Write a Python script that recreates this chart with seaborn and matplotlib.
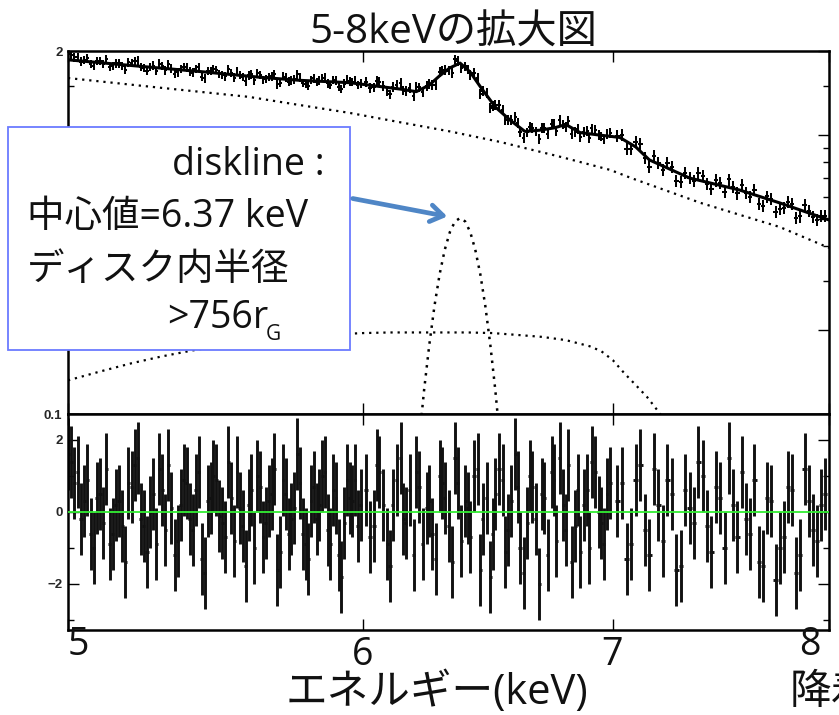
import matplotlib
matplotlib.use("Agg")
import numpy as np
import pandas as pd
import matplotlib.pyplot as plt
import seaborn as sns
from matplotlib.patches import Rectangle, FancyArrowPatch
from matplotlib.ticker import NullLocator, NullFormatter, FixedLocator

# ---------------- data ----------------
# spectral bins (keV), two interleaved sets per energy range
E_low_a = [5.01, 5.03, 5.05, 5.07, 5.09, 5.11, 5.13, 5.15, 5.17, 5.19,
           5.21, 5.23, 5.25, 5.27, 5.29, 5.31, 5.33, 5.35, 5.37, 5.39,
           5.41, 5.43, 5.45, 5.47, 5.49, 5.51, 5.53, 5.55, 5.57, 5.59,
           5.61, 5.63, 5.65, 5.67, 5.69, 5.71, 5.73, 5.75, 5.77, 5.79,
           5.81, 5.83, 5.85, 5.87, 5.89, 5.91, 5.93, 5.95, 5.97, 5.99]
E_low_b = [5.00, 5.02, 5.04, 5.06, 5.08, 5.10, 5.12, 5.14, 5.16, 5.18,
           5.20, 5.22, 5.24, 5.26, 5.28, 5.30, 5.32, 5.34, 5.36, 5.38,
           5.40, 5.42, 5.44, 5.46, 5.48, 5.50, 5.52, 5.54, 5.56, 5.58,
           5.60, 5.62, 5.64, 5.66, 5.68, 5.70, 5.72, 5.74, 5.76, 5.78,
           5.80, 5.82, 5.84, 5.86, 5.88, 5.90, 5.92, 5.94, 5.96, 5.98]
E_mid_a = [6.01, 6.04, 6.06, 6.09, 6.11, 6.14, 6.16, 6.19, 6.21, 6.24,
           6.26, 6.29, 6.31, 6.34, 6.36, 6.39, 6.41, 6.44, 6.46, 6.49,
           6.51, 6.54, 6.56, 6.59, 6.61, 6.64, 6.66, 6.69, 6.71, 6.74,
           6.76, 6.79, 6.81, 6.84, 6.86, 6.89, 6.91, 6.94, 6.96, 6.99]
E_mid_b = [6.025, 6.05, 6.075, 6.10, 6.125, 6.15, 6.175, 6.20, 6.225, 6.25,
           6.275, 6.30, 6.325, 6.35, 6.375, 6.40, 6.425, 6.45, 6.475, 6.50,
           6.525, 6.55, 6.575, 6.60, 6.625, 6.65, 6.675, 6.70, 6.725, 6.75,
           6.775, 6.80, 6.825, 6.85, 6.875, 6.90, 6.925, 6.95, 6.975]
E_high_a = [7.02, 7.06, 7.10, 7.14, 7.18, 7.22, 7.26, 7.30, 7.34, 7.38,
            7.42, 7.46, 7.50, 7.54, 7.58, 7.62, 7.66, 7.70, 7.74, 7.78,
            7.82, 7.86, 7.90, 7.94, 7.98]
E_high_b = [7.04, 7.08, 7.12, 7.16, 7.20, 7.24, 7.28, 7.32, 7.36, 7.40,
            7.44, 7.48, 7.52, 7.56, 7.60, 7.64, 7.68, 7.72, 7.76, 7.80,
            7.84, 7.88, 7.92, 7.96]
halfwidth_low, halfwidth_mid, halfwidth_high = 0.005, 0.00625, 0.01

flux_low_a = [1.934, 1.908, 1.856, 1.797, 1.844, 1.797, 1.756, 1.808, 1.767, 1.823,
              1.840, 1.752, 1.696, 1.772, 1.802, 1.705, 1.729, 1.675, 1.755, 1.691,
              1.724, 1.620, 1.694, 1.721, 1.658, 1.621, 1.668, 1.694, 1.613, 1.635,
              1.569, 1.644, 1.590, 1.623, 1.517, 1.630, 1.553, 1.581, 1.608, 1.525,
              1.577, 1.551, 1.604, 1.530, 1.578, 1.491, 1.529, 1.558, 1.573, 1.532]
flux_low_b = [1.949, 1.896, 1.832, 1.885, 1.771, 1.845, 1.874, 1.769, 1.808, 1.709,
              1.812, 1.847, 1.737, 1.750, 1.696, 1.766, 1.795, 1.658, 1.723, 1.746,
              1.673, 1.746, 1.596, 1.695, 1.712, 1.645, 1.721, 1.605, 1.642, 1.556,
              1.650, 1.662, 1.573, 1.615, 1.653, 1.538, 1.608, 1.570, 1.649, 1.540,
              1.504, 1.595, 1.567, 1.606, 1.510, 1.567, 1.462, 1.584, 1.550, 1.510]
flux_mid_a = [1.547, 1.481, 1.552, 1.434, 1.483, 1.537, 1.435, 1.375, 1.481, 1.499,
              1.508, 1.687, 1.709, 1.672, 1.843, 1.763, 1.639, 1.603, 1.442, 1.253,
              1.282, 1.233, 1.132, 1.158, 1.026, 1.021, 1.060, 0.967, 1.062, 1.098,
              1.036, 1.092, 1.127, 1.028, 0.981, 1.034, 1.057, 1.000, 0.965, 1.017]
flux_mid_b = [1.471, 1.566, 1.497, 1.399, 1.512, 1.445, 1.473, 1.485, 1.424, 1.526,
              1.513, 1.704, 1.702, 1.868, 1.744, 1.719, 1.665, 1.407, 1.414, 1.271,
              1.279, 1.128, 1.134, 1.106, 0.976, 1.069, 1.031, 1.061, 1.008, 1.093,
              1.131, 1.071, 1.009, 1.054, 1.023, 0.975, 1.043, 0.988, 1.009]
flux_high_a = [0.995, 0.893, 0.943, 0.826, 0.844, 0.748, 0.768, 0.677, 0.704, 0.733,
               0.666, 0.688, 0.626, 0.650, 0.663, 0.601, 0.567, 0.602, 0.529, 0.547,
               0.567, 0.511, 0.534, 0.496, 0.513]
flux_high_b = [1.004, 0.889, 0.926, 0.770, 0.796, 0.795, 0.686, 0.733, 0.686, 0.715,
               0.639, 0.673, 0.693, 0.618, 0.619, 0.636, 0.558, 0.592, 0.545, 0.576,
               0.504, 0.563, 0.509, 0.514]
relerr_low, relerr_mid, relerr_high = 0.035, 0.04, 0.05

resid_low_a = [1.4, 1.1, 0.3, -0.6, 0.4, -0.3, -0.9, 0.2, -0.4, 0.8,
               1.3, -0.2, -1.1, 0.5, 1.2, -0.5, 0.1, -0.8, 0.9, -0.2,
               0.6, -1.3, 0.3, 1.0, -0.1, -0.7, 0.4, 1.1, -0.4, 0.2,
               -1.0, 0.7, -0.3, 0.5, -1.6, 0.9, -0.6, 0.1, 0.8, -0.9,
               0.3, -0.2, 1.0, -0.5, 0.6, -1.2, -0.3, 0.4, 0.9, 0.2]
resid_low_b = [1.6, 0.8, -0.2, 0.9, -1.0, 0.5, 1.2, -0.6, 0.3, -1.4,
               0.7, 1.5, -0.4, 0.0, -0.9, 0.6, 1.3, -1.2, 0.2, 0.8,
               -0.5, 1.1, -1.7, 0.4, 0.9, -0.3, 1.4, -0.8, 0.1, -1.5,
               0.6, 1.0, -0.7, 0.3, 1.2, -1.1, 0.5, -0.2, 1.6, -0.6,
               -1.3, 0.7, 0.2, 1.1, -0.9, 0.4, -1.8, 0.9, 0.3, -0.4]
resid_mid_a = [0.6, -0.4, 1.1, -0.9, 0.2, 1.5, -0.3, -1.2, 0.7, 0.1,
               -0.6, 1.0, 0.4, -1.4, 0.8, 0.3, -0.7, 1.2, -0.2, -1.8,
               0.5, 0.9, -0.5, 1.6, -1.0, -0.3, 0.7, -2.0, 0.4, 1.1,
               -0.8, 0.2, 1.3, -0.4, -1.1, 0.6, 1.4, 0.0, -0.9, 0.8]
resid_mid_b = [-0.7, 1.3, 0.2, -1.5, 0.9, -0.2, 0.6, 1.1, -0.9, 0.3,
               -1.3, 0.8, -0.4, 1.5, -0.8, 0.1, 1.0, -1.6, 0.4, -0.6,
               1.2, -1.1, 0.3, 0.7, -1.7, 1.0, -0.2, 0.5, -1.2, 0.9,
               1.5, -0.5, -1.4, 0.6, 0.2, -1.0, 1.1, -0.3, 0.5]
resid_high_a = [0.3, -1.3, 0.9, -0.5, 1.2, -0.8, 0.5, -1.5, 0.1, 1.4,
                -0.4, 0.7, -1.0, 0.2, 1.1, -0.6, -1.4, 0.4, -1.9, -0.7,
                0.6, -1.2, 0.3, -0.8, 0.5]
resid_high_b = [0.8, -0.9, 1.3, -1.2, 0.2, 0.9, -1.6, 0.6, -0.3, 1.0,
                -1.1, 0.4, 1.5, -0.7, -0.2, 0.9, -1.5, 0.3, -1.0, 0.7,
                -1.7, 1.2, -0.5, 0.2]
resid_err = 1.0

# total model
model_E = [5.00, 5.26, 5.42, 5.63, 5.77, 5.95, 6.14, 6.20, 6.25, 6.29, 6.33, 6.37,
           6.41, 6.45, 6.51, 6.57, 6.63, 6.69, 6.75, 6.80, 6.86, 6.94, 7.03, 7.10,
           7.16, 7.34, 7.57, 7.76, 8.00]
model_F = [1.86, 1.75, 1.69, 1.61, 1.57, 1.54, 1.46, 1.43, 1.51, 1.63, 1.74, 1.81,
           1.68, 1.49, 1.26, 1.13, 1.03, 1.04, 1.06, 1.09, 1.02, 1.00, 0.98, 0.906,
           0.814, 0.701, 0.635, 0.571, 0.496]
# continuum component
cont_E = [5.00, 5.26, 5.59, 5.77, 5.95, 6.14, 6.33, 6.53, 6.78, 6.99, 7.08, 7.39, 7.76, 8.00]
cont_F = [1.60, 1.49, 1.37, 1.28, 1.20, 1.11, 1.03, 0.944, 0.834, 0.749, 0.701, 0.571, 0.468, 0.394]
# broad component
broad_E = [5.0, 5.1, 5.2, 5.3, 5.4, 5.5, 5.6, 5.7, 5.8, 5.9, 6.0, 6.1, 6.2, 6.3,
           6.4, 6.5, 6.6, 6.7, 6.8, 6.9, 6.95, 7.0, 7.05, 7.1, 7.15, 7.2, 7.25, 7.3]
broad_F = [0.132, 0.142, 0.152, 0.161, 0.169, 0.176, 0.182, 0.187, 0.191, 0.193,
           0.195, 0.196, 0.196, 0.196, 0.196, 0.195, 0.192, 0.189, 0.184, 0.175,
           0.168, 0.156, 0.140, 0.127, 0.115, 0.102, 0.090, 0.080]
# diskline component
disk_E = [6.19, 6.21, 6.23, 6.25, 6.27, 6.29, 6.31, 6.33, 6.35, 6.37,
          6.39, 6.41, 6.43, 6.45, 6.47, 6.49, 6.51, 6.53, 6.55]
disk_F = [0.048, 0.079, 0.122, 0.177, 0.244, 0.317, 0.388, 0.449, 0.490, 0.504,
          0.490, 0.449, 0.388, 0.317, 0.244, 0.177, 0.122, 0.079, 0.048]

x_tick_values = [5, 6, 7, 8]
x_tick_labels = ["5", "6", "7", "8"]
top_ytick_values = [0.1, 0.2, 0.5, 1, 2]
top_ytick_labels = ["0.1", "", "", "", "2"]     # middle labels lie under the call-out box
res_ytick_values = [-2, 0, 2]
res_ytick_labels = ["\u22122", "0", "2"]

# ---------------- figure ----------------
sns.set_theme(style="ticks")
plt.rcParams["font.family"] = ["Noto Sans CJK JP", "DejaVu Sans"]
MIX = ["Open Sans", "Noto Sans CJK JP"]   # Latin from Open Sans, kana/kanji from Noto

W, H = 839, 715
fig = plt.figure(figsize=(W / 100, H / 100), dpi=100)

def fx(px):
    return px / W

def fy(py):
    return 1 - py / H

ax_top = fig.add_axes([fx(68), fy(414), fx(829) - fx(68), fy(51) - fy(414)])
ax_res = fig.add_axes([fx(68), fy(630), fx(829) - fx(68), fy(414) - fy(630)], sharex=ax_top)

groups = [(E_low_a, flux_low_a, resid_low_a, halfwidth_low, relerr_low),
          (E_low_b, flux_low_b, resid_low_b, halfwidth_low, relerr_low),
          (E_mid_a, flux_mid_a, resid_mid_a, halfwidth_mid, relerr_mid),
          (E_mid_b, flux_mid_b, resid_mid_b, halfwidth_mid, relerr_mid),
          (E_high_a, flux_high_a, resid_high_a, halfwidth_high, relerr_high),
          (E_high_b, flux_high_b, resid_high_b, halfwidth_high, relerr_high)]
E_all = np.concatenate([g[0] for g in groups])
flux_all = np.concatenate([g[1] for g in groups])
res_all = np.concatenate([g[2] for g in groups])
hw_all = np.concatenate([[g[3]] * len(g[0]) for g in groups])
ferr_all = flux_all * np.concatenate([[g[4]] * len(g[0]) for g in groups])

# top panel
ax_top.set_xscale("log")
ax_top.set_yscale("log")
ax_top.errorbar(E_all, flux_all, yerr=ferr_all, xerr=hw_all, fmt="none",
                ecolor="black", elinewidth=1.45, capsize=0, zorder=3)
dotted = (0, (1, 2.2))
sns.lineplot(x=cont_E, y=cont_F, ax=ax_top, color="black", lw=1.6,
             linestyle=dotted, estimator=None, sort=False, zorder=2)
sns.lineplot(x=broad_E, y=broad_F, ax=ax_top, color="black", lw=1.6,
             linestyle=dotted, estimator=None, sort=False, zorder=2)
sns.lineplot(x=disk_E, y=disk_F, ax=ax_top, color="black", lw=1.8,
             linestyle=dotted, estimator=None, sort=False, zorder=2)
sns.lineplot(x=model_E, y=model_F, ax=ax_top, color="black", lw=2.2,
             estimator=None, sort=False, zorder=4)
ax_top.set_xlim(5, 8)
ax_top.set_ylim(0.1, 2)

# residual panel
ax_res.errorbar(E_all, res_all, yerr=resid_err, xerr=hw_all, fmt="none",
                ecolor="#111111", elinewidth=2.1, capsize=0, zorder=2)
sns.lineplot(x=[5, 8], y=[0, 0], ax=ax_res, color="#33ee33", lw=1.3,
             estimator=None, zorder=4)
ax_res.set_ylim(-3.28, 2.72)
ax_res.set_xlim(5, 8)

# ticks and frames
tickfont = dict(family="Liberation Sans", weight="bold", size=9.5)
for ax in (ax_top, ax_res):
    for s in ax.spines.values():
        s.set_visible(True)
        s.set_linewidth(1.8)
        s.set_color("black")
    ax.xaxis.set_major_locator(FixedLocator(x_tick_values))
    ax.xaxis.set_minor_locator(NullLocator())
    ax.xaxis.set_major_formatter(NullFormatter())
    ax.xaxis.set_minor_formatter(NullFormatter())
    ax.tick_params(axis="both", which="both", direction="in", top=True, right=True,
                   color="black", width=1.0)
    ax.tick_params(axis="both", which="major", length=8, pad=4)
    ax.tick_params(axis="both", which="minor", length=4)
    ax.set_xlabel("")
    ax.set_ylabel("")
    ax.grid(False)
    ax.set_facecolor("white")

ax_top.set_yticks(top_ytick_values)
ax_top.set_yticklabels(top_ytick_labels, fontdict=tickfont)
ax_top.yaxis.set_minor_locator(FixedLocator([0.3, 0.4, 0.6, 0.7, 0.8, 0.9, 1.5]))
ax_top.yaxis.set_minor_formatter(NullFormatter())

ax_res.set_yticks(res_ytick_values)
ax_res.set_yticklabels(res_ytick_labels, fontdict=tickfont)
ax_res.yaxis.set_minor_locator(FixedLocator([-3, -1, 1]))
ax_res.yaxis.set_minor_formatter(NullFormatter())

# ---------------- slide overlay texts ----------------
fig.text(fx(453), fy(33), "5-8keVの拡大図", ha="center", va="center", size=29,
         family=MIX, color="#111111")

for lab, px, py in zip(x_tick_labels, [78, 363, 612, 810], [645, 655, 655, 645]):
    fig.text(fx(px), fy(py), lab, ha="center", va="center", size=27,
             family=MIX, color="#111111")

fig.text(fx(437), fy(693), "エネルギー(keV)", ha="center", va="center", size=30,
         family=MIX, color="#111111")
fig.text(fx(790), fy(693), "降着", ha="left", va="center", size=30,
         family=MIX, color="#111111")

box = Rectangle((fx(8), fy(350)), fx(350) - fx(8), fy(127) - fy(350), transform=fig.transFigure,
                facecolor="white", edgecolor="#6b7bff", lw=1.3, zorder=10)
fig.add_artist(box)
fig.text(fx(325), fy(165), "diskline :", ha="right", va="center", size=27,
         family=MIX, color="#111111", zorder=11)
fig.text(fx(27), fy(217), "中心値=6.37 keV", ha="left", va="center", size=27,
         family=MIX, color="#111111", zorder=11)
fig.text(fx(27), fy(270), "ディスク内半径", ha="left", va="center", size=27,
         family=MIX, color="#111111", zorder=11)
fig.text(fx(167), fy(318), ">756r", ha="left", va="center", size=27,
         family=MIX, color="#111111", zorder=11)
fig.text(fx(266), fy(334), "G", ha="left", va="center", size=15,
         family=MIX, color="#111111", zorder=11)

arrow = FancyArrowPatch((fx(350), fy(198)), (fx(450), fy(217)), transform=fig.transFigure,
                        arrowstyle="->,head_length=0.75,head_width=0.5", lw=3.4,
                        color="#4f86c6", zorder=12, mutation_scale=12)
fig.add_artist(arrow)

fig.savefig("out.png", dpi=100)
